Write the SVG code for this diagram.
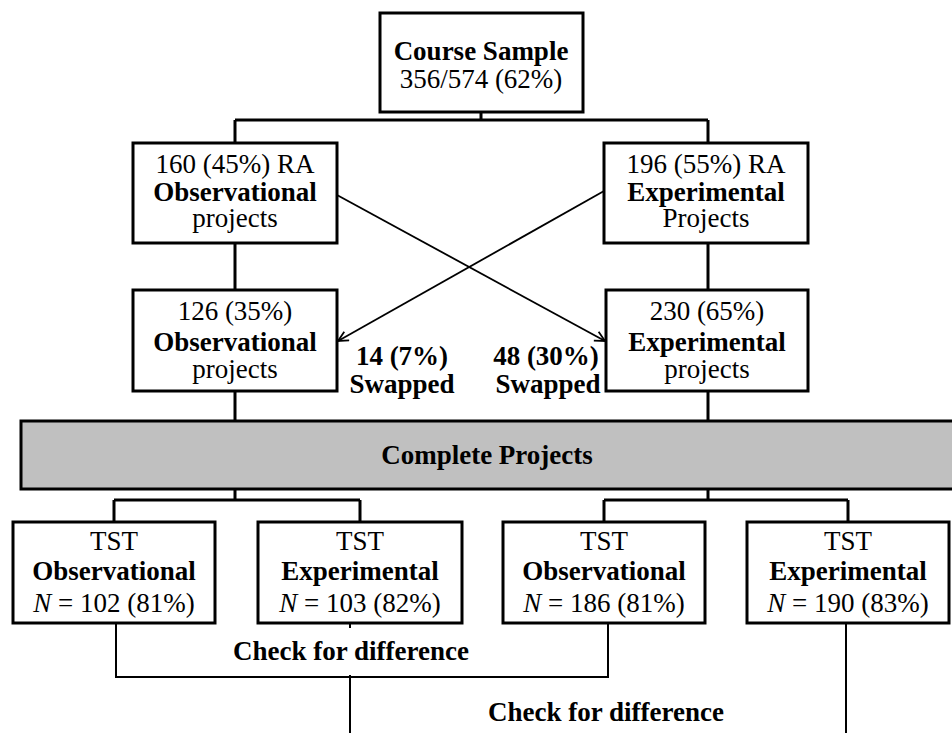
<svg xmlns="http://www.w3.org/2000/svg" width="952" height="733" viewBox="0 0 952 733">
<style>
.box{fill:#fff;stroke:#000;stroke-width:3}
.bar{fill:#c0c0c0;stroke:#000;stroke-width:3}
.t{font-family:"Liberation Serif","Times New Roman",serif;font-size:27px;fill:#000;text-anchor:middle}
.b{font-weight:bold}
.i{font-style:italic}
.c{fill:none;stroke:#000;stroke-width:3}
.d{fill:none;stroke:#000;stroke-width:2}
.a{fill:none;stroke:#000;stroke-width:1.8;marker-end:url(#arr)}
</style>
<defs>
<marker id="arr" viewBox="0 0 12 12" refX="11" refY="6" markerWidth="12" markerHeight="12" markerUnits="userSpaceOnUse" orient="auto">
<path d="M1,1 L11,6 L1,11" fill="none" stroke="#000" stroke-width="1.8"/>
</marker>
</defs>
<g id="connectors">
<path class="c" d="M481,112 V120 M235,120 H708 M235,120 V143 M708,120 V143"/>
<path class="c" d="M235,243 V290 M708,243 V290"/>
<path class="c" d="M235,391 V421 M708,391 V421"/>
<path class="c" d="M235,489 V500 M708,489 V500 M114,500 H360 M114,500 V522 M360,500 V522 M604,500 H848 M604,500 V522 M848,500 V522"/>
<line class="a" x1="337" y1="195" x2="605" y2="341"/>
<line class="a" x1="604" y1="191" x2="338" y2="341"/>
<path class="d" d="M116,623 V677 H608 V623 M350,623 V628 M350,675 V733 M846,623 V733"/>
</g>
<g id="course">
<rect class="box" x="380" y="13" width="203" height="99"/>
<text class="t b" x="481" y="60">Course Sample</text>
<text class="t" x="481" y="88">356/574 (62%)</text>
</g>
<g id="ra-obs">
<rect class="box" x="133" y="143" width="204" height="100"/>
<text class="t" x="235" y="173">160 (45%) RA</text>
<text class="t b" x="235" y="201">Observational</text>
<text class="t" x="235" y="227">projects</text>
</g>
<g id="ra-exp">
<rect class="box" x="604" y="143" width="204" height="100"/>
<text class="t" x="706" y="173">196 (55%) RA</text>
<text class="t b" x="706" y="201">Experimental</text>
<text class="t" x="706" y="227">Projects</text>
</g>
<g id="obs">
<rect class="box" x="133" y="290" width="204" height="101"/>
<text class="t" x="235" y="320">126 (35%)</text>
<text class="t b" x="235" y="351">Observational</text>
<text class="t" x="235" y="378">projects</text>
</g>
<g id="exp">
<rect class="box" x="606" y="290" width="202" height="101"/>
<text class="t" x="707" y="320">230 (65%)</text>
<text class="t b" x="707" y="351">Experimental</text>
<text class="t" x="707" y="378">projects</text>
</g>
<g id="swap-labels">
<text class="t b" x="402" y="365">14 (7%)</text>
<text class="t b" x="402" y="393">Swapped</text>
<text class="t b" x="546" y="365">48 (30%)</text>
<text class="t b" x="548" y="393">Swapped</text>
</g>
<g id="complete">
<rect class="bar" x="21" y="421" width="940" height="68"/>
<text class="t b" x="487" y="464">Complete Projects</text>
</g>
<g id="tst-obs-1">
<rect class="box" x="13" y="522" width="202" height="101"/>
<text class="t" x="114" y="550">TST</text>
<text class="t b" x="114" y="580">Observational</text>
<text class="t" x="114" y="612"><tspan class="i">N</tspan> = 102 (81%)</text>
</g>
<g id="tst-exp-1">
<rect class="box" x="258" y="522" width="204" height="101"/>
<text class="t" x="360" y="550">TST</text>
<text class="t b" x="360" y="580">Experimental</text>
<text class="t" x="360" y="612"><tspan class="i">N</tspan> = 103 (82%)</text>
</g>
<g id="tst-obs-2">
<rect class="box" x="503" y="522" width="202" height="101"/>
<text class="t" x="604" y="550">TST</text>
<text class="t b" x="604" y="580">Observational</text>
<text class="t" x="604" y="612"><tspan class="i">N</tspan> = 186 (81%)</text>
</g>
<g id="tst-exp-2">
<rect class="box" x="747" y="522" width="202" height="101"/>
<text class="t" x="848" y="550">TST</text>
<text class="t b" x="848" y="580">Experimental</text>
<text class="t" x="848" y="612"><tspan class="i">N</tspan> = 190 (83%)</text>
</g>
<g id="check-labels">
<text class="t b" x="351" y="660">Check for difference</text>
<text class="t b" x="606" y="721">Check for difference</text>
</g>
</svg>
